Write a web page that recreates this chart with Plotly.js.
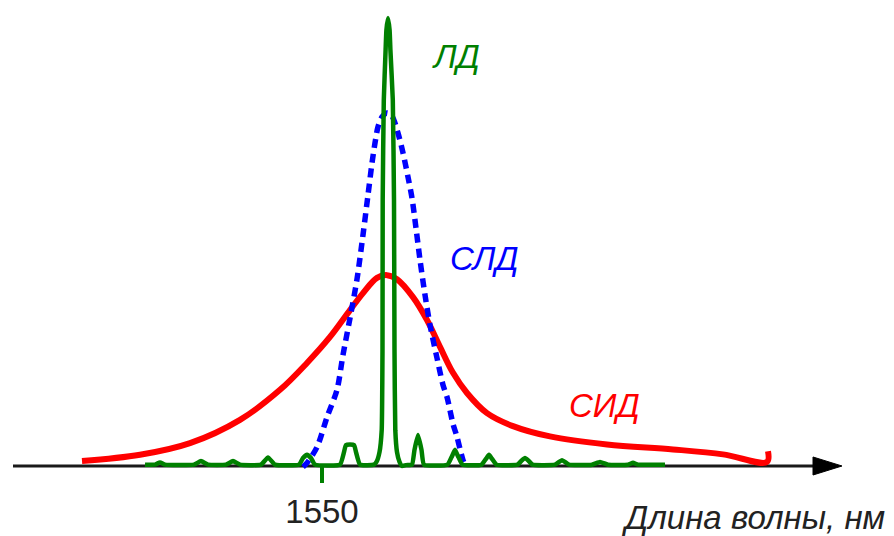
<!DOCTYPE html>
<html>
<head>
<meta charset="utf-8">
<script src="https://cdn.plot.ly/plotly-3.0.1.min.js"></script>
<style>html,body{margin:0;padding:0;background:#fff;}#chart{width:894px;height:536px;}</style>
</head>
<body>
<div id="chart"></div>
<script>
// Wavelength (nm) and relative intensity (LD peak = 100)
const sidX = [1526.0,1531.8,1536.8,1541.8,1545.8,1548.5,1550.8,1552.8,1554.1,1555.5,1556.5,1557.5,1559.1,1560.5,1561.8,1563.1,1564.5,1566.5,1569.1,1572.8,1578.5,1585.1,1590.1,1594.5,1594.6];
const sidY = [1.1,2.5,5.1,10.3,17.0,23.0,28.8,34.8,38.6,42.0,42.6,41.7,37.7,32.6,26.6,20.8,16.3,11.8,8.9,6.6,4.8,3.7,2.6,0.9,3.3];

const sldX = [1548.1,1548.5,1549.5,1550.5,1551.5,1552.1,1552.8,1553.5,1554.1,1554.6,1555.0,1555.3,1555.6,1556.0,1556.5,1557.0,1557.6,1558.1,1558.6,1559.0,1559.4,1559.8,1560.3,1560.8,1561.5,1562.1,1562.5,1563.1,1563.5,1564.1,1564.4];
const sldY = [-0.2,0.7,4.2,10.9,17.0,24.8,33.0,41.7,51.6,60.5,67.6,72.1,75.7,77.9,78.8,78.1,74.3,69.9,64.5,59.8,53.1,46.0,38.2,31.5,24.1,18.1,15.4,9.4,6.5,1.3,-0.2];

const ldX = [1532.3,1533.3,1533.8,1534.3,1537.2,1537.9,1538.6,1540.4,1541.1,1541.8,1543.9,1544.6,1545.3,1547.7,1548.1,1548.5,1548.9,1549.3,1551.8,1552.2,1552.4,1553.2,1553.4,1553.8,
  1555.2,1555.45,1555.75,1555.97,1556.05,1556.07,1556.18,1556.36,1556.44,1556.6,1556.76,1556.84,1557.08,1557.2,1557.25,1557.33,1557.5,1557.75,1558.0,1558.4,
  1559.0,1559.25,1559.6,1559.95,1560.2,1562.55,1563.0,1563.3,1563.6,1564.05,1565.95,1566.4,1566.7,1567.0,1567.45,1569.55,1570.0,1570.3,1570.6,1571.05,1573.3,1574.0,1574.7,1577.0,1577.8,1578.6,1580.6,1581.1,1581.6,1584.3];
const ldY = [0.3,0.3,0.8,0.3,0.3,1.1,0.3,0.3,1.1,0.3,0.3,1.9,0.3,0.3,1.8,2.5,1.8,0.3,0.3,3.1,4.7,4.7,3.1,0.3,
  0.3,0.9,3.1,8.0,25.9,59.4,81.7,92.9,97.3,100,97.3,92.9,81.7,59.4,25.9,8.0,3.1,0.9,0,0.2,
  0.3,3.6,6.9,3.6,0.3,0.3,2.2,3.6,2.2,0.3,0.3,1.6,2.5,1.6,0.3,0.3,1.3,1.8,1.3,0.3,0.3,1.3,0.3,0.3,0.9,0.3,0.3,0.7,0.3,0.3];

const tickVals = [1550];
const tickText = ['1550'];
const labels = ['ЛД','СЛД','СИД'];
const axisTitle = 'Длина волны, нм';

const traces = [
  {x: sidX, y: sidY, type:'scatter', mode:'lines', line:{color:'#ff0000', width:6, shape:'spline', smoothing:1}, hoverinfo:'skip'},
  {x: sldX, y: sldY, type:'scatter', mode:'lines', line:{color:'#0000ff', width:5.5, dash:'9px,6px', shape:'spline', smoothing:0.8}, hoverinfo:'skip'},
  {x: ldX, y: ldY, type:'scatter', mode:'lines', line:{color:'#008000', width:4.5, shape:'spline', smoothing:0.4}, hoverinfo:'skip'}
];

const fontFam = '"Liberation Sans", Arial, sans-serif';
const layout = {
  width: 894, height: 536,
  margin: {l:0, r:0, t:0, b:0},
  paper_bgcolor:'#ffffff', plot_bgcolor:'#ffffff',
  showlegend:false,
  xaxis: {
    range:[1517.8, 1607.2], anchor:'free', position: 70/536,
    showgrid:false, zeroline:false, showline:false,
    ticks:'outside', ticklen:16, tickwidth:4, tickcolor:'#008000',
    tickvals: tickVals, ticktext: tickText,
    tickfont:{family: fontFam, size:33, color:'#222222'}
  },
  yaxis: {range:[-15.625, 104.018], visible:false, fixedrange:true},
  shapes: [
    {type:'line', xref:'paper', yref:'y', x0:13/894, x1:815/894, y0:0, y1:0, line:{color:'#1a1a1a', width:3}, layer:'below'},
    {type:'path', xref:'paper', yref:'paper', path:'M 0.9094 0.1474 L 0.9418 0.1306 L 0.9094 0.1138 Z', fillcolor:'#000000', line:{color:'#000000', width:1}, layer:'above'}
  ],
  annotations: [
    {x:1563.4, y:91.5, xref:'x', yref:'y', text:'<i>'+labels[0]+'</i>', showarrow:false, font:{family:fontFam, size:33, color:'#008000'}},
    {x:1566.2, y:46.4, xref:'x', yref:'y', text:'<i>'+labels[1]+'</i>', showarrow:false, font:{family:fontFam, size:33, color:'#0000ff'}},
    {x:1578.2, y:13.4, xref:'x', yref:'y', text:'<i>'+labels[2]+'</i>', showarrow:false, font:{family:fontFam, size:33, color:'#ff0000'}},
    {x:887/894, y:-11.6, xref:'paper', yref:'y', xanchor:'right', text:'<i>'+axisTitle+'</i>', showarrow:false, font:{family:fontFam, size:33, color:'#222222'}}
  ]
};

Plotly.newPlot('chart', traces, layout, {staticPlot:true, displayModeBar:false});
</script>
</body>
</html>
